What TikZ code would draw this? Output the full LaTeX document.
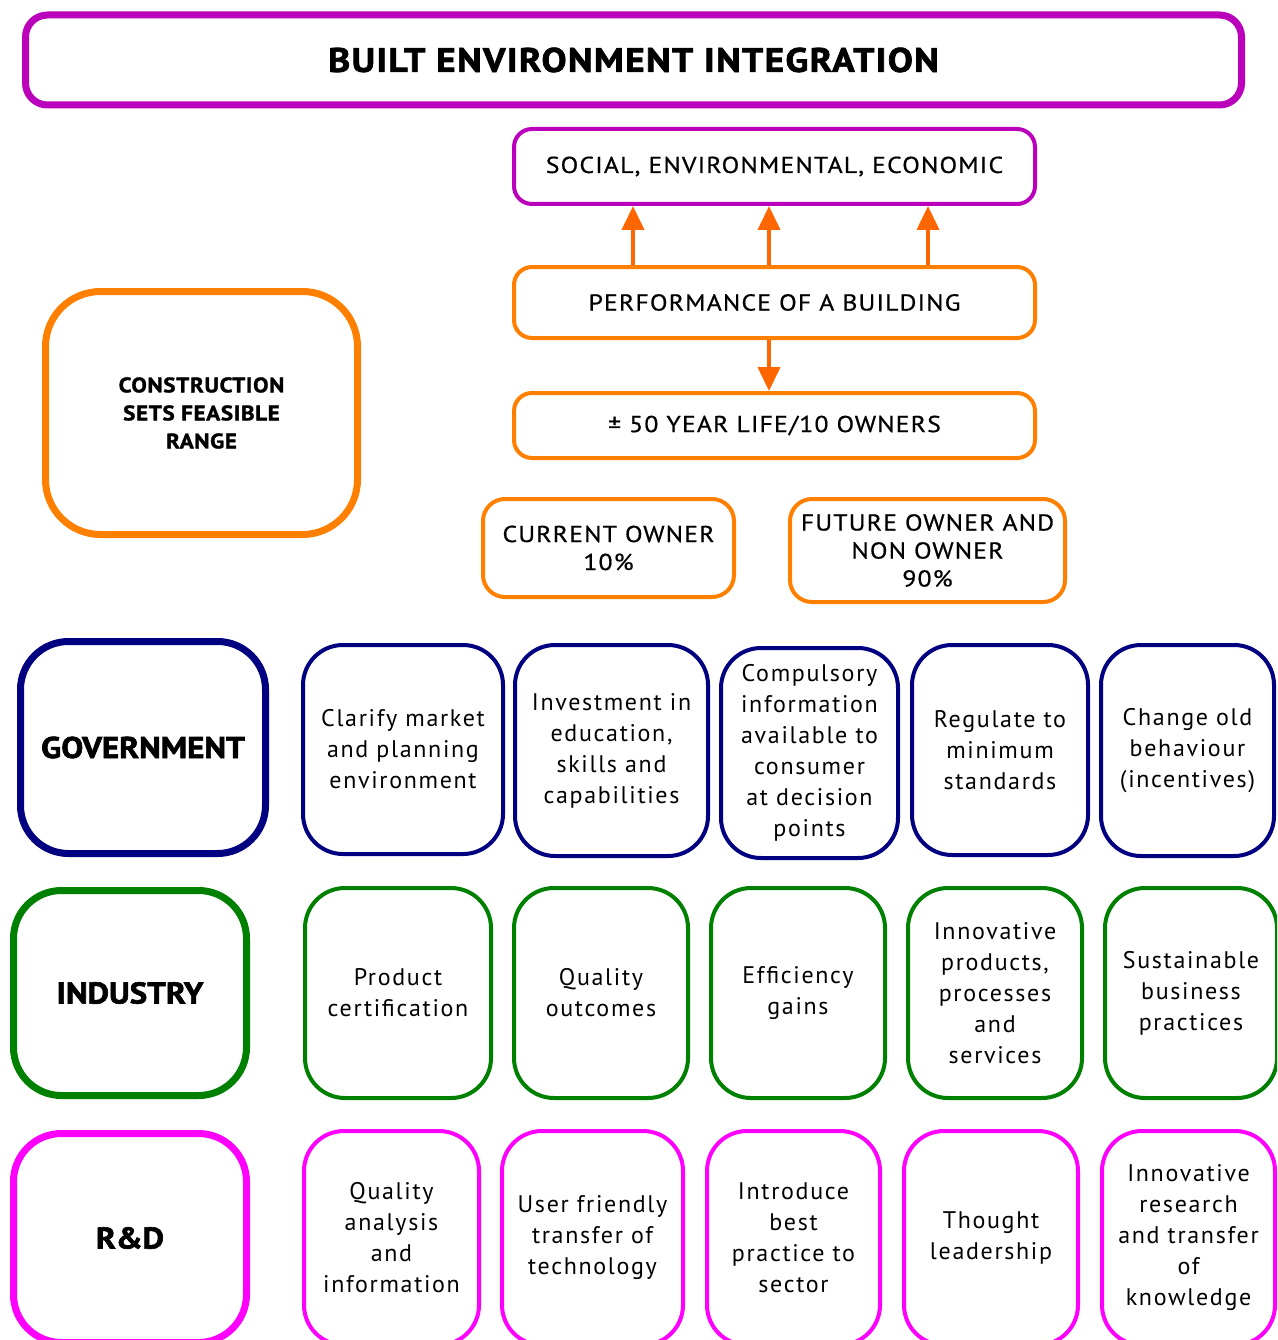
\documentclass[tikz,border=0pt]{standalone}
\usepackage{fontspec}
\setmainfont{PT Sans}
\usetikzlibrary{arrows.meta,calc}
\definecolor{cPurple}{HTML}{BB00BB}
\definecolor{cOrange}{HTML}{FF8000}
\definecolor{cArrow}{HTML}{FF6600}
\definecolor{cNavy}{HTML}{000080}
\definecolor{cGreen}{HTML}{008000}
\definecolor{cMagenta}{HTML}{FF00FF}
\tikzset{
  box/.style={draw, rectangle, inner sep=0pt, align=center, text=black},
  thinbox/.style={box, line width=4pt, rounded corners=18pt},
  ownerbox/.style={box, line width=4pt, rounded corners=22pt},
  bigbox/.style={box, line width=7pt, rounded corners=48pt},
  subbox/.style={box, line width=4pt, rounded corners=40pt,
    font=\fontsize{24}{31}\selectfont\addfontfeature{LetterSpace=7}},
  headfont/.style={font=\fontsize{30}{36}\selectfont\bfseries\addfontfeature{FakeStretch=1.1,FakeBold=2}},
  capsfont/.style={font=\fontsize{23}{28}\selectfont\addfontfeature{FakeStretch=1.12,LetterSpace=5,FakeBold=0.6}},
  arr/.style={draw=cArrow, line width=4pt, -{Triangle[width=22pt,length=24pt]}, fill=cArrow},
}
\begin{document}
\begin{tikzpicture}[x=1pt,y=-1pt]
\useasboundingbox (0,0) rectangle (1277,1340);
\clip (0,0) rectangle (1277,1340);
% top
\node[box, draw=cPurple, line width=7pt, rounded corners=22pt, minimum width=1216pt, minimum height=90pt,
  font=\fontsize{34}{40}\selectfont\bfseries\addfontfeature{FakeStretch=1.1,LetterSpace=4,FakeBold=2}] (title) at (633.5,60) {BUILT ENVIRONMENT INTEGRATION};
\node[thinbox, draw=cPurple, minimum width=521pt, minimum height=75pt, capsfont] (soc) at (774.5,166.5) {SOCIAL, ENVIRONMENTAL, ECONOMIC};
\node[thinbox, draw=cOrange, minimum width=521pt, minimum height=71pt, capsfont] (perf) at (774.5,302.5) {PERFORMANCE OF A BUILDING};
\node[thinbox, draw=cOrange, minimum width=521pt, minimum height=65pt, capsfont] (life) at (774.5,425.5) {± 50 YEAR LIFE/10 OWNERS};
\node[bigbox, draw=cOrange, minimum width=312pt, minimum height=243pt, rounded corners=55pt,
  font=\fontsize{21}{28}\selectfont\bfseries\addfontfeature{FakeStretch=1.1,LetterSpace=3,FakeBold=1.5}] (cons) at (201.5,413) {CONSTRUCTION\\SETS FEASIBLE\\RANGE};
\node[ownerbox, draw=cOrange, minimum width=251pt, minimum height=98pt, capsfont] (cur) at (608.5,548) {CURRENT OWNER\\10\%};
\node[ownerbox, draw=cOrange, minimum width=275pt, minimum height=103pt, capsfont] (fut) at (927.5,550.5) {FUTURE OWNER AND\\NON OWNER\\90\%};
% arrows
\coordinate (a1) at (633,0);
\coordinate (a2) at (769,0);
\coordinate (a3) at (928,0);
\draw[arr] (perf.north -| a1) -- (soc.south -| a1);
\draw[arr] (perf.north -| a2) -- (soc.south -| a2);
\draw[arr] (perf.north -| a3) -- (soc.south -| a3);
\draw[arr] (perf.south -| a2) -- (life.north -| a2);
% government
\node[bigbox, draw=cNavy, minimum width=245pt, minimum height=212pt, headfont] (gov) at (143,747.5) {GOVERNMENT};
\node[subbox, draw=cNavy, minimum width=200pt, minimum height=209pt] (g1) at (403,749.5) {Clarify market\\and planning\\environment};
\node[subbox, draw=cNavy, minimum width=193pt, minimum height=211pt] (g2) at (611.5,750.5) {Investment in\\education,\\skills and\\capabilities};
\node[subbox, draw=cNavy, minimum width=177pt, minimum height=210pt] (g3) at (809.5,753) {Compulsory\\information\\available to\\consumer\\at decision\\points};
\node[subbox, draw=cNavy, minimum width=176pt, minimum height=210pt] (g4) at (1000,750) {Regulate to\\minimum\\standards};
\node[subbox, draw=cNavy, minimum width=173pt, minimum height=211pt] (g5) at (1187.5,750.5) {Change old\\behaviour\\(incentives)};
% industry
\node[bigbox, draw=cGreen, minimum width=233pt, minimum height=205pt, headfont] (ind) at (130,993) {INDUSTRY};
\node[subbox, draw=cGreen, minimum width=186pt, minimum height=210pt] (i1) at (398,993) {Product\\certification};
\node[subbox, draw=cGreen, minimum width=174pt, minimum height=210pt] (i2) at (601,993) {Quality\\outcomes};
\node[subbox, draw=cGreen, minimum width=174pt, minimum height=210pt] (i3) at (798,993) {Efficiency\\gains};
\node[subbox, draw=cGreen, minimum width=174pt, minimum height=210pt] (i4) at (995,993) {Innovative\\products,\\processes\\and\\services};
\node[subbox, draw=cGreen, minimum width=172pt, minimum height=210pt] (i5) at (1191,993) {Sustainable\\business\\practices};
% R&D
\node[bigbox, draw=cMagenta, minimum width=233pt, minimum height=209pt, headfont] (rd) at (130,1238) {R\&D};
\node[subbox, draw=cMagenta, minimum width=175pt, minimum height=214pt] (r1) at (391.5,1238) {Quality\\analysis\\and\\information};
\node[subbox, draw=cMagenta, minimum width=181pt, minimum height=214pt] (r2) at (592.5,1238) {User friendly\\transfer of\\technology};
\node[subbox, draw=cMagenta, minimum width=173pt, minimum height=214pt] (r3) at (793.5,1238) {Introduce\\best\\practice to\\sector};
\node[subbox, draw=cMagenta, minimum width=174pt, minimum height=214pt] (r4) at (991,1238) {Thought\\leadership};
\node[subbox, draw=cMagenta, minimum width=173pt, minimum height=214pt] (r5) at (1188.5,1238) {Innovative\\research\\and transfer\\of\\knowledge};
\end{tikzpicture}
\end{document}
